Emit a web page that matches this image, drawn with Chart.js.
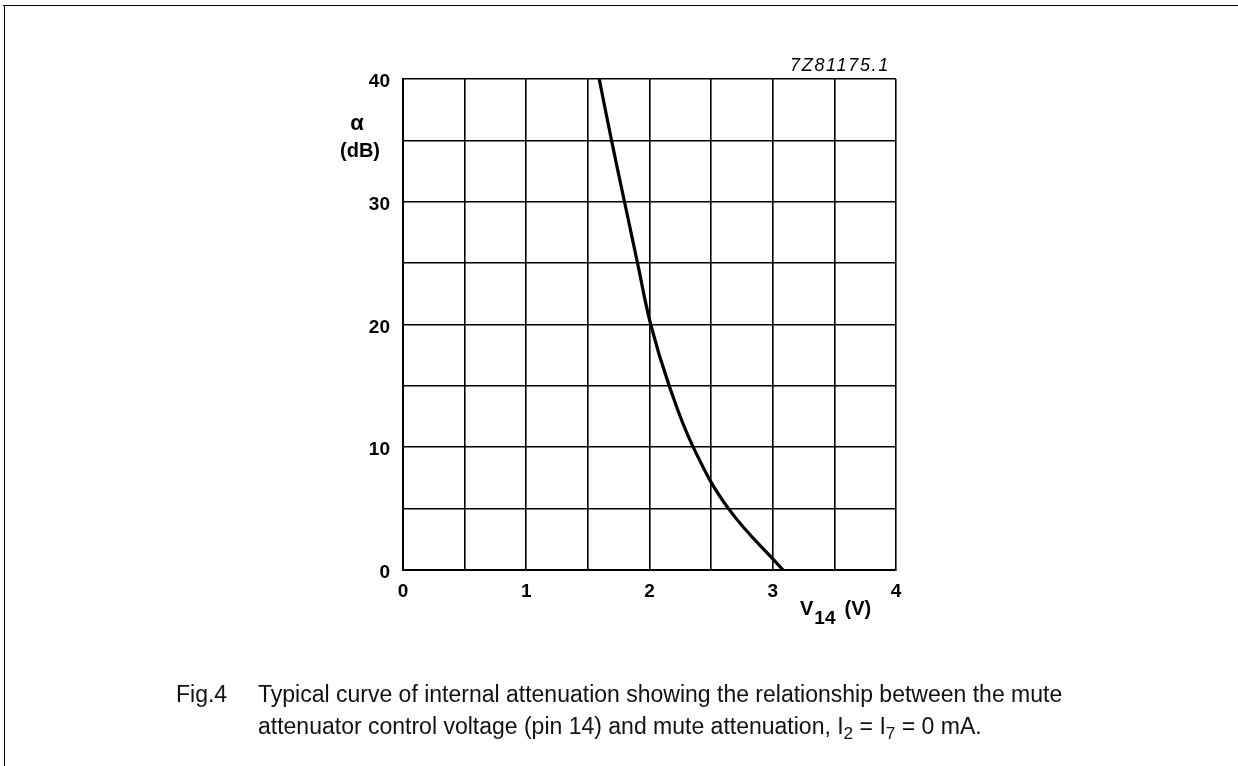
<!DOCTYPE html>
<html>
<head>
<meta charset="utf-8">
<script src="https://cdn.jsdelivr.net/npm/chart.js@4"></script>
<style>
  html, body { margin: 0; padding: 0; background: #fff; }
  body { width: 1238px; height: 766px; position: relative; overflow: hidden; }
  #wrap { position: absolute; left: 0; top: 0; width: 1238px; height: 766px; }
  .frameTop { position: absolute; left: 3px; top: 5px; width: 1235px; height: 0; border-top: 1.5px solid #000; }
  .frameLeft { position: absolute; left: 4px; top: 5px; width: 0; height: 761px; border-left: 1.5px solid #000; }
  .cap { position: absolute; font-family: "Liberation Sans", Arial, sans-serif; font-size: 23px; line-height: 1; color: #111; white-space: nowrap; }
  .lbl { position: absolute; font-family: "Liberation Sans", Arial, sans-serif; font-weight: bold; line-height: 1; color: #000; white-space: nowrap; }
  sub { font-size: 75%; vertical-align: -0.3em; line-height: 0; }
</style>
</head>
<body>
<div id="wrap"><canvas id="c" width="1238" height="766"></canvas></div>
<div class="frameTop"></div>
<div class="frameLeft"></div>
<div class="lbl" style="left:790px; top:56px; font-size:18px; font-style:italic; font-weight:normal; letter-spacing:1.7px;">7Z81175.1</div>
<div class="lbl" style="left:332px; width:50px; text-align:center; top:112px; font-size:22px;">α</div>
<div class="lbl" style="left:330px; width:60px; text-align:center; top:140px; font-size:20px;">(dB)</div>
<div class="lbl" style="left:800px; top:598px; font-size:20px;">V<span style="font-size:19px; position:relative; top:9px; margin-left:1px;">14</span><span style="margin-left:9px;">(V)</span></div>
<div class="cap" style="left:176px; top:683px;">Fig.4</div>
<div class="cap" style="left:258px; top:683px;">Typical curve of internal attenuation showing the relationship between the mute</div>
<div class="cap" style="left:258px; top:715px;">attenuator control voltage (pin 14) and mute attenuation, I<sub>2</sub> = I<sub>7</sub> = 0 mA.</div>
<script>
// ---- data ----
const voltage = [1.592, 1.692, 1.797, 1.903, 2.010, 2.160, 2.355, 2.641, 3.083];
const attenuation = [40, 35, 30, 25, 20, 15, 10, 5, 0];
const xTickLabels = ['0', '1', '2', '3', '4'];
const yTickLabels = ['0', '10', '20', '30', '40'];

const points = voltage.map((v, i) => ({ x: v, y: attenuation[i] }));

const chart = new Chart(document.getElementById('c'), {
  type: 'scatter',
  data: {
    datasets: [{
      data: points,
      showLine: true,
      borderColor: '#000',
      borderWidth: 3.2,
      pointRadius: 0,
      tension: 0.4,
      fill: false
    }]
  },
  options: {
    responsive: false,
    animation: false,
    devicePixelRatio: 1,
    layout: { padding: { left: 0, right: 342, top: 79, bottom: 0 } },
    plugins: { legend: { display: false }, tooltip: { enabled: false } },
    scales: {
      x: {
        type: 'linear', min: 0, max: 4,
        afterFit: s => { s.height = 196; },
        ticks: {
          stepSize: 0.5, autoSkip: false, maxRotation: 0,
          color: '#000', padding: 10,
          font: { family: 'Liberation Sans, Arial, sans-serif', size: 19, weight: 'bold' },
          callback: v => (Number.isInteger(v) ? xTickLabels[v] : '')
        },
        grid: { color: '#000', lineWidth: 1.6, drawTicks: false },
        border: { color: '#000', width: 2 }
      },
      y: {
        type: 'linear', min: 0, max: 40,
        afterFit: s => { s.width = 403; },
        ticks: {
          stepSize: 5, autoSkip: false,
          color: '#000', padding: 13, labelOffset: 3,
          font: { family: 'Liberation Sans, Arial, sans-serif', size: 19, weight: 'bold' },
          callback: v => (v % 10 === 0 ? yTickLabels[v / 10] : '')
        },
        grid: { color: '#000', lineWidth: 1.6, drawTicks: false },
        border: { color: '#000', width: 2 }
      }
    }
  }
});
</script>
</body>
</html>
